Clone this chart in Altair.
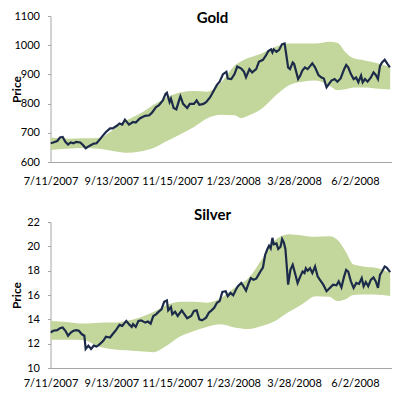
import altair as alt
import pandas as pd

x_ticks = [0, 45, 90, 135, 180, 225]
x_labels = ["7/11/2007", "9/13/2007", "11/15/2007", "1/23/2008", "3/28/2008", "6/2/2008"]

gold_day = [0, 2, 5, 7, 9, 11, 13, 15, 17, 19, 22, 24, 26, 29, 32, 34, 36, 39, 41, 44, 46, 49, 51, 53, 55,
            58, 61, 63, 66, 68, 70, 73, 75, 78, 80, 83, 85, 86, 88, 89, 91, 93, 95, 96, 98, 101, 103, 106,
            108, 110, 113, 115, 118, 120, 123, 125, 127.5, 130, 131, 133.6, 136, 138, 141, 143, 144.5, 147,
            149, 152, 154, 157, 159, 161, 163, 164, 165, 167, 169, 171, 173, 174, 175.6, 177, 179, 180,
            181.4, 183, 184.6, 186, 188, 190, 192, 193.5, 195.5, 198, 200, 202, 204, 205.7, 207.6, 210,
            212, 214.4, 217, 218.5, 220, 222, 224, 225.8, 227.5, 229.5, 230.7, 232.4, 234.3, 236.8, 238.7,
            240.4, 242, 243.5, 245, 247, 249, 250.8]
gold_price = [664, 667, 672, 684, 686, 669, 660, 667, 664, 669, 667, 658, 647, 656, 663, 664, 675, 692, 703,
              715, 715, 724, 732, 728, 745, 728, 737, 735, 749, 754, 758, 760, 769, 788, 794, 811, 833, 837,
              805, 817, 785, 780, 811, 825, 799, 785, 799, 799, 811, 796, 799, 805, 822, 839, 864, 875, 901,
              909, 886, 884, 901, 927, 920, 909, 890, 918, 907, 918, 943, 950, 963, 980, 986, 975, 986, 977,
              984, 1003, 1006, 975, 924, 918, 941, 936, 912, 884, 896, 912, 924, 918, 929, 938, 924, 898,
              890, 886, 856, 867, 879, 884, 875, 886, 918, 932, 924, 901, 884, 890, 873, 896, 873, 884, 875,
              890, 907, 898, 884, 929, 941, 950, 936, 924]

band_day = [0, 12, 24, 36, 46, 56, 66, 76, 86, 96, 106, 116, 126, 136, 141, 146, 156, 166, 176, 186, 196,
            206, 212, 218, 224, 232, 240, 251]
gold_lo = [641, 645, 648, 645, 638, 632, 636, 648, 672, 695, 720, 750, 762, 760, 750, 758, 782, 826, 862,
           875, 879, 862, 846, 849, 855, 855, 852, 848]
gold_hi = [684, 680, 681, 682, 710, 742, 765, 795, 822, 838, 843, 841, 872, 930, 945, 956, 972, 994, 1006,
           1006, 1006, 1012, 1008, 976, 955, 948, 940, 925]

silver_day = [0, 2, 5, 7, 9, 11, 13, 15, 17, 19, 21, 23, 25, 26, 28, 30, 32, 34, 36, 39, 41, 44, 46, 48, 51,
              53, 56, 58, 60, 61, 63, 65, 67, 70, 72, 74, 76, 78, 80, 82, 84, 86, 87, 89, 90, 92, 94, 97, 99,
              101, 104, 106, 108, 110, 112, 115, 117, 119, 121, 123, 125, 127, 129.5, 131, 133, 135, 137,
              138.5, 141, 142.6, 144.5, 146.5, 148, 150, 152, 154, 155.4, 157, 158.6, 160.3, 161.5, 162.7,
              164, 165, 167, 168.3, 170, 171.2, 172.4, 173.6, 174.9, 175.6, 177.3, 179, 181, 182.6, 184.6,
              186.3, 187.7, 188.7, 190, 191.8, 193.5, 195.5, 197.4, 199, 201.6, 204, 206.4, 208.8, 211.3,
              213, 215, 217, 218.5, 220, 222, 224, 226, 228, 230, 231.4, 233, 234.8, 236.8, 238.7, 240.4,
              242, 243.5, 245, 247, 248.4, 251]
silver_price = [12.92, 13.06, 13.11, 13.27, 13.33, 13.06, 12.65, 12.92, 13.06, 13.11, 13.06, 12.79, 12.65,
                11.57, 11.84, 11.57, 11.84, 11.76, 11.92, 12.24, 12.57, 12.51, 12.79, 13.06, 13.54, 13.46,
                13.87, 13.6, 13.38, 13.6, 13.38, 13.87, 13.92, 13.73, 13.82, 13.65, 14.28, 14.41, 14.63,
                14.82, 15.44, 15.55, 14.74, 15.01, 14.41, 14.63, 14.28, 14.74, 14.41, 14.09, 14.28, 14.68,
                14.74, 14.0, 13.92, 14.14, 14.55, 14.74, 14.95, 15.36, 15.5, 16.25, 16.31, 15.9, 16.17,
                15.98, 16.44, 16.72, 16.99, 16.72, 16.36, 16.99, 17.39, 17.26, 17.34, 17.72, 17.99, 18.26,
                19.29, 19.78, 20.05, 19.83, 20.7, 20.16, 20.24, 19.78, 19.97, 20.59, 20.32, 19.78, 17.93,
                16.85, 18.07, 18.48, 17.66, 16.99, 17.53, 17.93, 17.8, 18.2, 17.99, 18.2, 17.8, 18.34, 17.53,
                17.26, 16.85, 16.31, 16.58, 16.85, 16.8, 17.12, 16.63, 17.53, 18.07, 17.93, 17.12, 16.58,
                16.99, 16.91, 17.39, 16.72, 17.07, 16.72, 17.26, 17.45, 17.12, 16.58, 17.66, 17.93, 18.34,
                18.26, 17.88]
silver_lo = [12.33, 12.33, 12.3, 11.75, 11.55, 11.45, 11.37, 11.3, 11.84, 12.6, 13.05, 13.4, 13.6, 13.33,
             13.25, 13.2, 13.45, 13.87, 14.6, 15.25, 15.9, 15.85, 15.5, 15.65, 16.0, 16.04, 16.04, 15.92]
silver_hi = [13.87, 13.79, 13.65, 13.72, 13.73, 13.87, 14.15, 14.6, 15.18, 15.44, 15.44, 15.36, 15.75, 16.6,
             16.95, 17.35, 18.9, 20.5, 21.0, 20.9, 20.78, 20.83, 20.55, 19.6, 18.5, 18.33, 18.25, 17.85]

LINE = "#1C2B4A"
BAND = "#C3D69B"
AXIS = "#A6A6A6"
FONT = "Lato"
W = 341
XMAX = 252
label_expr = "[" + ",".join("'" + s + "'" for s in x_labels) + "][round(datum.value / 45)]"


def panel(name, day, price, lo, hi, ydom, yvals, height, title_y, title_base, xpad):
    xs = alt.Scale(domain=[0, XMAX], nice=False, zero=False)
    ys = alt.Scale(domain=ydom, nice=False, zero=False)
    xaxis = alt.Axis(values=x_ticks, labelExpr=label_expr, title=None, grid=False, ticks=False,
                     tickSize=0, labelPadding=xpad, labelFlush=False, labelOverlap=False,
                     domainColor=AXIS)
    yaxis = alt.Axis(values=yvals, format="d", title="Price", titleFont=FONT, titleFontSize=12,
                     titleFontWeight="bold", titleColor="#000000", titleAngle=270,
                     titleAlign="center", titleBaseline="middle", titleX=-34, titleY=height / 2,
                     grid=False, tickSize=3, tickColor=AXIS, labelPadding=8, domainColor=AXIS)
    band = alt.Chart(pd.DataFrame({"day": band_day, "lo": lo, "hi": hi})).mark_area(
        color=BAND, interpolate="monotone", clip=True
    ).encode(
        x=alt.X("day:Q", scale=xs, axis=xaxis),
        y=alt.Y("lo:Q", scale=ys, axis=yaxis),
        y2="hi:Q",
    )
    line = alt.Chart(pd.DataFrame({"day": day, "price": price})).mark_line(
        color=LINE, strokeWidth=2.2, clip=True
    ).encode(
        x=alt.X("day:Q", scale=xs, axis=xaxis),
        y=alt.Y("price:Q", scale=ys, axis=yaxis),
    )
    title = alt.Chart(pd.DataFrame({"t": [name]})).mark_text(
        font=FONT, fontSize=15, fontWeight="bold", color="#000000", align="center", baseline=title_base
    ).encode(text="t:N", x=alt.value(162), y=alt.value(title_y))
    return alt.layer(band, line, title).properties(width=W, height=height)


gold = panel("Gold", gold_day, gold_price, gold_lo, gold_hi, [600, 1100],
             [600, 700, 800, 900, 1000, 1100], 146, -5, "top", 13)
silver = panel("Silver", silver_day, silver_price, silver_lo, silver_hi, [10, 22],
               [10, 12, 14, 16, 18, 20, 22], 146, -7, "middle", 9)

chart = alt.vconcat(gold, silver, spacing=22).properties(
    padding={"left": 2.5, "top": 2, "right": 0, "bottom": 0}
).configure_view(strokeOpacity=0).configure_axis(labelFont=FONT, labelFontSize=11, labelColor="#000000")

chart.save("out.html", embed_options={"renderer": "svg", "actions": False})
